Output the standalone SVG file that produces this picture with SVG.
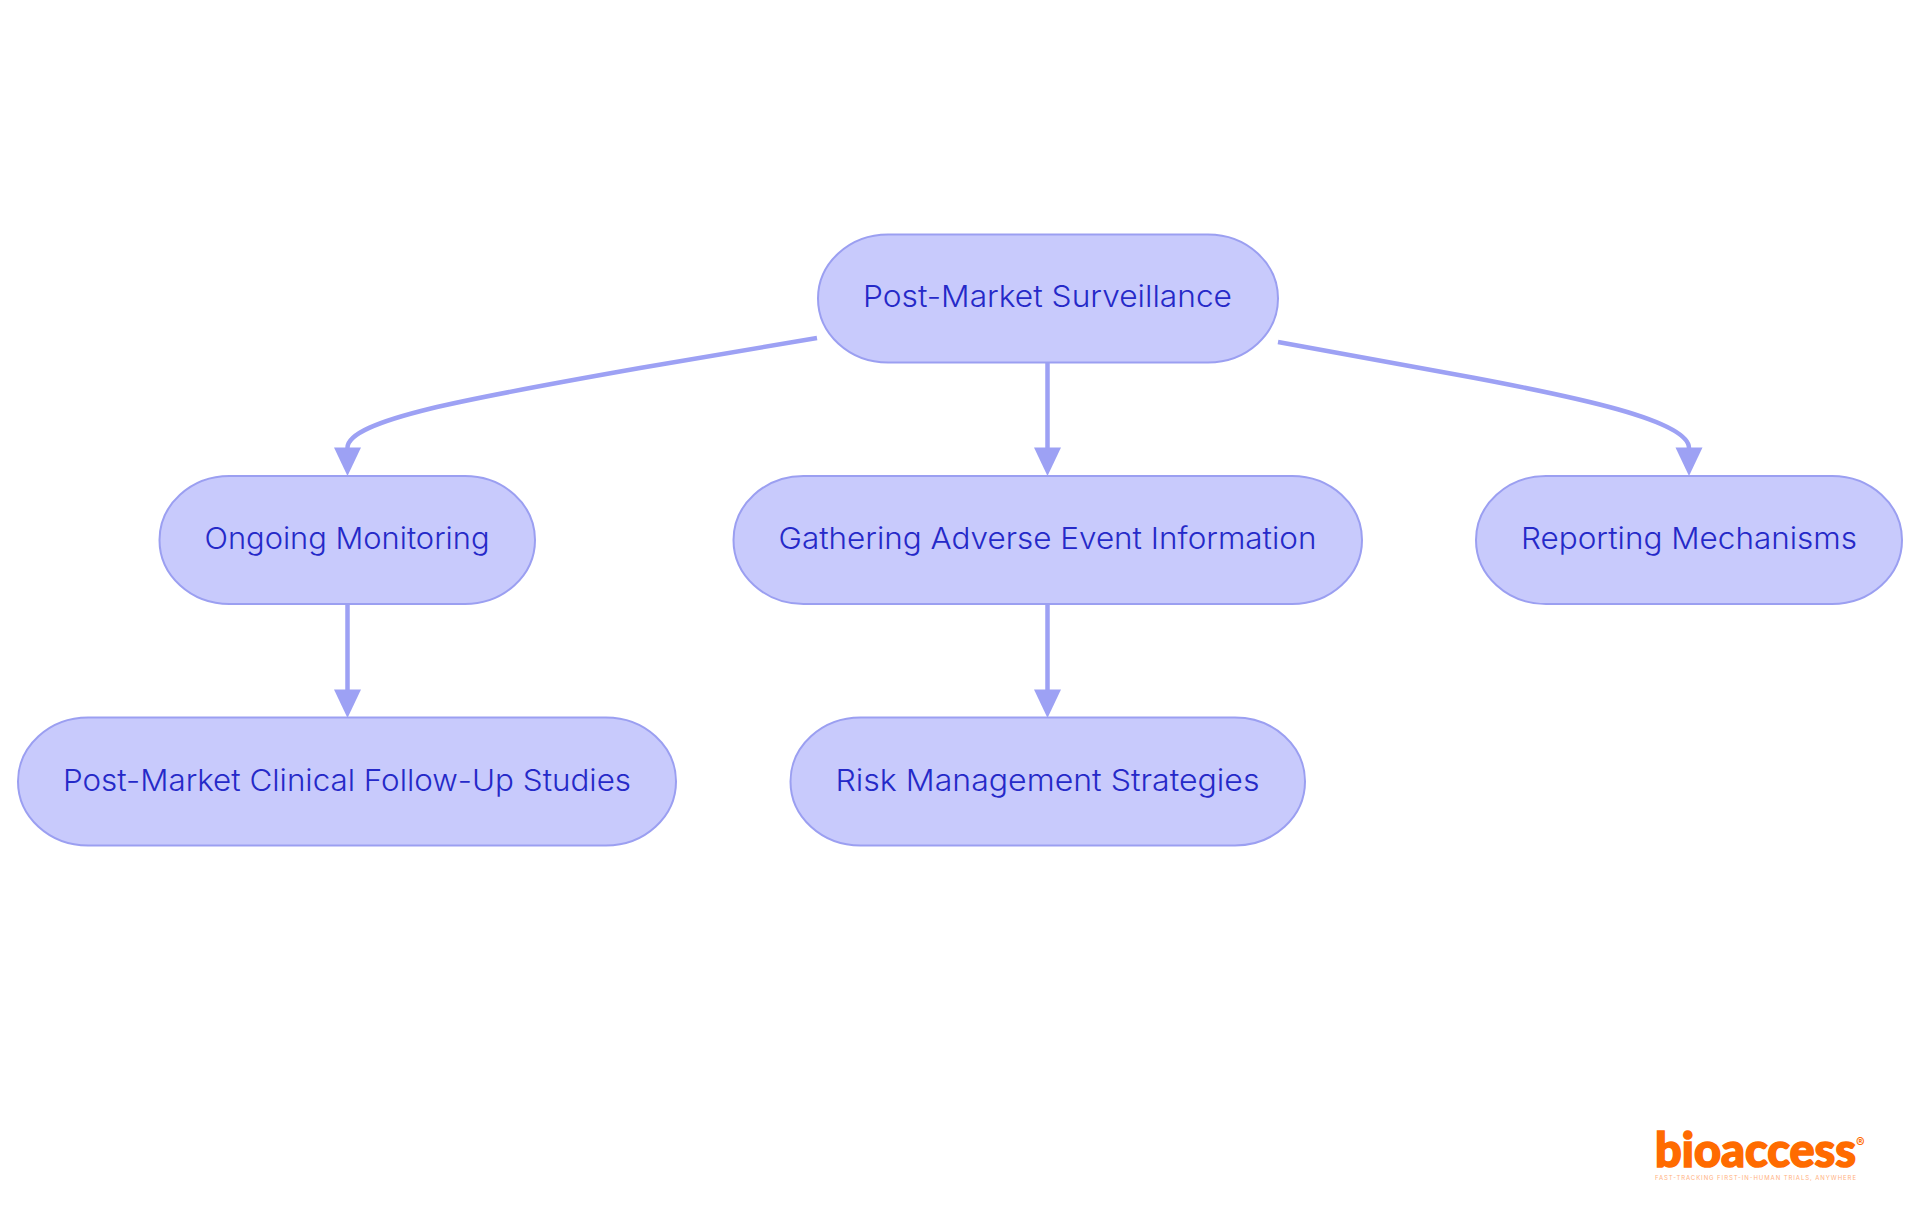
<svg xmlns="http://www.w3.org/2000/svg" width="1920" height="1215" viewBox="0 0 1920 1215">
<defs>
<marker id="arrow" markerUnits="userSpaceOnUse" markerWidth="30" markerHeight="28" refX="0.5" refY="13.5" orient="90" overflow="visible"><path d="M0 0L28.500 13.500L0 27Z" fill="#9DA1F4"/></marker>
</defs>
<style>
.n{fill:#C8CAFC;stroke:#9B9FF1;stroke-width:2}
.t{font-family:"Inter","Noto Sans",sans-serif;font-weight:300;font-size:30px;fill:#2529C8;text-anchor:middle}
.c{fill:none;stroke:#9DA1F4;stroke-width:4.5;marker-end:url(#arrow)}
</style>
<rect width="1920" height="1215" fill="#FFFFFF"/>
<g id="connectors">
<path class="c" d="M817 338L640 368C470 398 347 420 347.500 448"/>
<path class="c" d="M1047.500 363V448"/>
<path class="c" d="M1278 342L1475 378C1570 396 1689 420 1689 448"/>
<path class="c" d="M347.500 604V690"/>
<path class="c" d="M1047.500 604V690"/>
</g>
<g id="n1"><rect class="n" x="818" y="234.500" width="460" height="128" rx="70" ry="64"/><text class="t" x="1047.500" y="307" textLength="369" lengthAdjust="spacingAndGlyphs">Post-Market Surveillance</text></g>
<g id="n2"><rect class="n" x="159.500" y="476" width="375.500" height="128" rx="70" ry="64"/><text class="t" x="347" y="549" textLength="285" lengthAdjust="spacingAndGlyphs">Ongoing Monitoring</text></g>
<g id="n3"><rect class="n" x="733.500" y="476" width="628.500" height="128" rx="70" ry="64"/><text class="t" x="1047.500" y="549" textLength="538" lengthAdjust="spacingAndGlyphs">Gathering Adverse Event Information</text></g>
<g id="n4"><rect class="n" x="1476" y="476" width="426" height="128" rx="70" ry="64"/><text class="t" x="1689" y="549" textLength="336" lengthAdjust="spacingAndGlyphs">Reporting Mechanisms</text></g>
<g id="n5"><rect class="n" x="18" y="717.500" width="658" height="128" rx="70" ry="64"/><text class="t" x="347" y="790.500" textLength="568" lengthAdjust="spacingAndGlyphs">Post-Market Clinical Follow-Up Studies</text></g>
<g id="n6"><rect class="n" x="790.500" y="717.500" width="514.500" height="128" rx="70" ry="64"/><text class="t" x="1047.500" y="790.500" textLength="424" lengthAdjust="spacingAndGlyphs">Risk Management Strategies</text></g>
<g id="logo">
<text x="1655" y="1167" font-family="Lato,Inter,sans-serif" font-weight="900" font-size="47" fill="#FF6B00" stroke="#FF6B00" stroke-width="1.600" textLength="201" lengthAdjust="spacingAndGlyphs">bioaccess</text>
<text x="1856" y="1147" font-family="Inter,Roboto,sans-serif" font-weight="700" font-size="13" fill="#FF6B00">®</text>
<text x="1655" y="1180" font-family="Inter,Roboto,sans-serif" font-size="6" fill="#FFB27F" textLength="201" lengthAdjust="spacing">FAST-TRACKING FIRST-IN-HUMAN TRIALS, ANYWHERE</text>
</g>
</svg>
